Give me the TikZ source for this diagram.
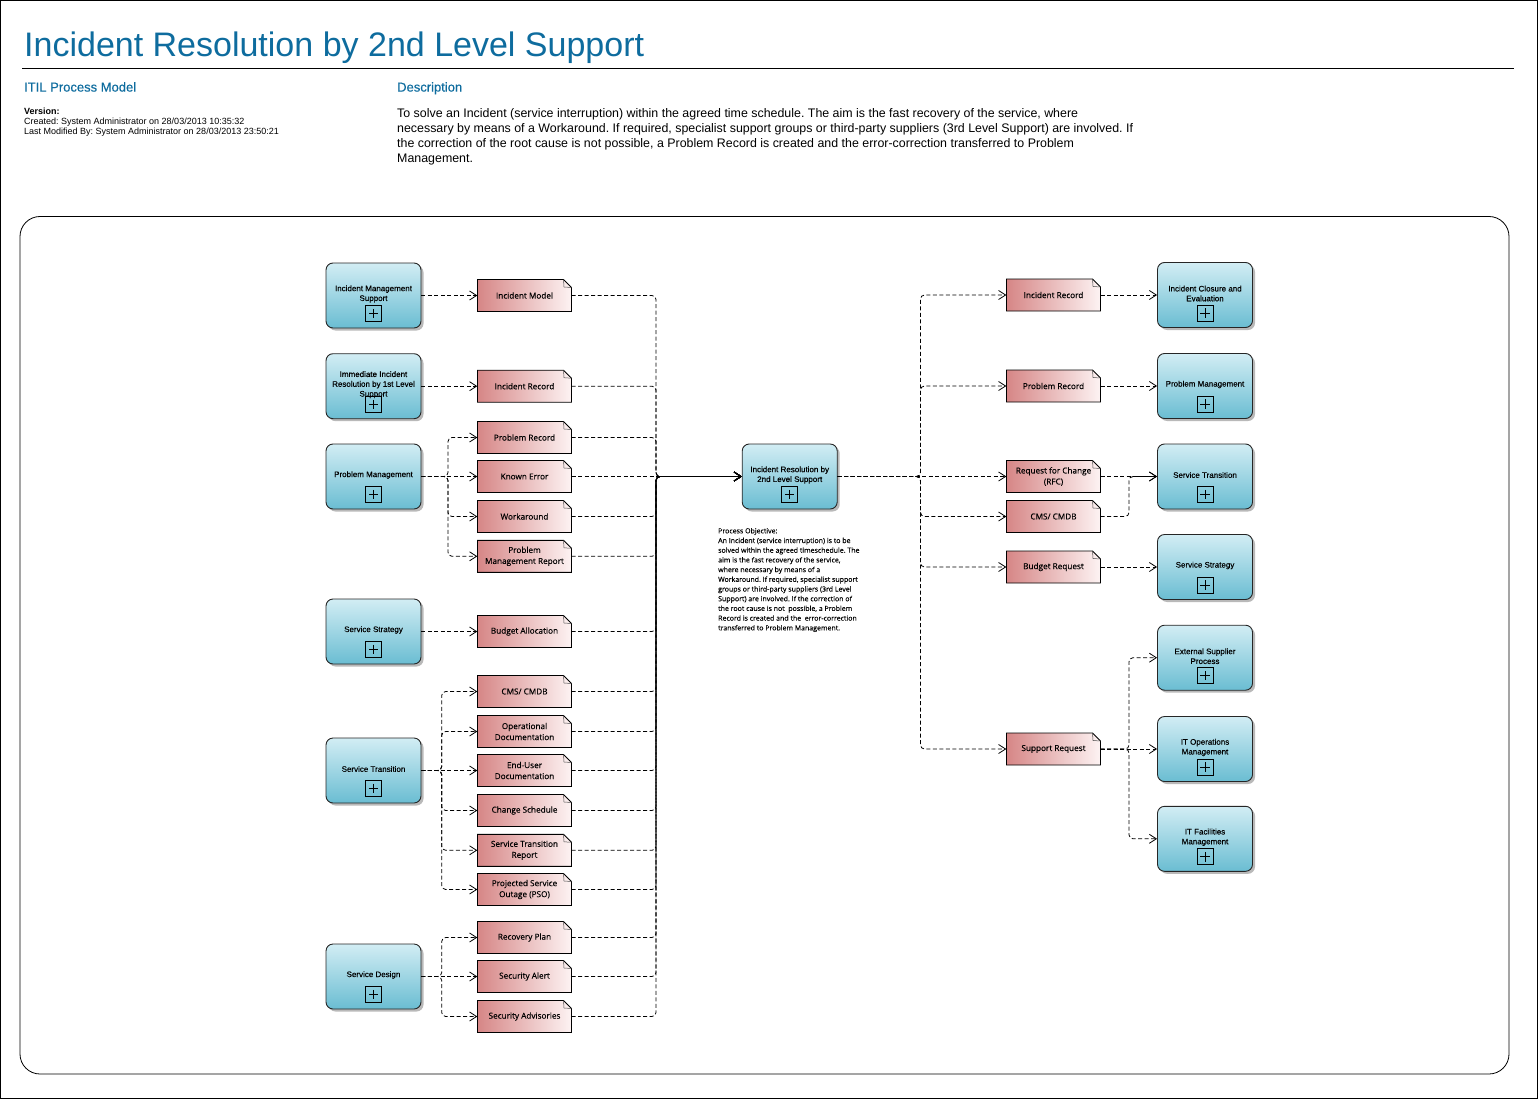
\documentclass[tikz,border=0pt]{standalone}
\usepackage{fontspec}
\setmainfont{Liberation Sans}
\newfontfamily\artfont[FakeBold=0.35]{Open Sans}
\newfontfamily\objfont[FakeBold=0.2]{Open Sans}
\newfontfamily\pfont[FakeBold=0.3]{Liberation Sans}
\newfontfamily\hfont[FakeBold=0.4]{Liberation Sans}
\frenchspacing
\usetikzlibrary{arrows.meta,shadows,calc}
\definecolor{ttl}{RGB}{14,108,158}
\definecolor{pTop}{RGB}{210,237,244}
\definecolor{pBot}{RGB}{106,189,210}
\definecolor{aL}{RGB}{214,134,134}
\definecolor{aR}{RGB}{253,243,243}
\tikzset{
  procbox/.style={draw=black!85, line width=0.9pt, rounded corners=7pt,
    minimum width=95pt, minimum height=65pt, inner sep=0pt,
    top color=pTop, bottom color=pBot,
    drop shadow={shadow xshift=2.5pt, shadow yshift=-2.5pt, fill=black!50, opacity=0.55}},
  ptext/.style={font=\pfont\fontsize{8}{9.8}\selectfont, align=center, inner sep=0pt},
  plusbox/.style={draw=black, line width=0.8pt, minimum size=16pt, inner sep=0pt,
    path picture={
      \draw[line width=0.8pt] ([yshift=-3.3pt]path picture bounding box.north) -- ([yshift=3.3pt]path picture bounding box.south);
      \draw[line width=0.8pt] ([xshift=3.3pt]path picture bounding box.west) -- ([xshift=-3.3pt]path picture bounding box.east);}},
  artnode/.style={minimum width=94pt, minimum height=32pt, inner sep=0pt},
  atext/.style={font=\artfont\fontsize{8.2}{11}\selectfont, align=center, inner sep=0pt},
  artshape/.style={left color=aL, right color=aR, draw=black, line width=0.9pt},
  foldline/.style={draw=black!70, line width=0.5pt},
  conn/.style={draw=black, line width=0.8pt, dash pattern=on 4pt off 2.5pt,
    rounded corners=4pt, -{Straight Barb[length=7pt,width=9pt]}},
  hdr/.style={anchor=base west, inner sep=0pt},
}
\newcommand\procnode[4]{%
  \node[procbox] (#1) at (#2,#3) {};
  \node[ptext] (#1-t) at (#2,#3-1.5) {#4};
  \node[plusbox] (#1-p) at (#2,#3+18) {};
}
\newcommand\artbox[4]{%
  \shadedraw[artshape] (#2-47,#3-16) -- (#2+39,#3-16) -- (#2+47,#3-8) -- (#2+47,#3+16) -- (#2-47,#3+16) -- cycle;
  \draw[foldline] (#2+39,#3-16) -- (#2+39.5,#3-8.5) -- (#2+47,#3-8);
  \node[artnode] (#1) at (#2,#3) {};
  \node[atext] (#1-t) at (#2,#3) {#4};
}
\begin{document}
\begin{tikzpicture}[x=1pt,y=-1pt]
\useasboundingbox (0,0) rectangle (1538,1099);
\draw[line width=0.8pt] (0.6,0.6) rectangle (1537.2,1098.2);
% header
\node[hdr, font=\fontsize{34}{40}\selectfont, text=ttl] (title) at (24,56.7) {Incident Resolution by 2nd Level Support};
\draw[line width=1pt] (22,69) -- (1514,69);
\node[hdr, font=\hfont\fontsize{13}{15}\selectfont, text=ttl] (itil) at (24,91.6) {ITIL Process Model};
\node[hdr, font=\hfont\fontsize{13}{15}\selectfont, text=ttl] (desch) at (397,91.6) {Description};
\node[hdr, font=\bfseries\fontsize{9}{10}\selectfont] (ver) at (24,114.2) {Version:};
\node[hdr, font=\fontsize{9}{10}\selectfont] (cre) at (24,124.6) {Created: System Administrator on 28/03/2013 10:35:32};
\node[hdr, font=\fontsize{9}{10}\selectfont] (mod) at (24,135) {Last Modified By: System Administrator on 28/03/2013 23:50:21};
\node[hdr, font=\fontsize{12.4}{15}\selectfont] (d1) at (397,117.5) {To solve an Incident (service interruption) within the agreed time schedule. The aim is the fast recovery of the service, where};
\node[hdr, font=\fontsize{12.4}{15}\selectfont] (d2) at (397,132.5) {necessary by means of a Workaround. If required, specialist support groups or third-party suppliers (3rd Level Support) are involved. If};
\node[hdr, font=\fontsize{12.4}{15}\selectfont] (d3) at (397,147.5) {the correction of the root cause is not possible, a Problem Record is created and the error-correction transferred to Problem};
\node[hdr, font=\fontsize{12.4}{15}\selectfont] (d4) at (397,162.5) {Management.};
% diagram frame
\draw[line width=0.8pt, rounded corners=20pt] (20,216.5) rectangle (1509,1074);
% left processes
\procnode{pIMS}{373.5}{295.5}{Incident Management\\Support}
\procnode{pIIR}{373.5}{386.2}{Immediate Incident\\Resolution by 1st Level\\Support}
\procnode{pPM}{373.5}{476.5}{Problem Management}
\procnode{pSS}{373.5}{631.5}{Service Strategy}
\procnode{pST}{373.5}{770.5}{Service Transition}
\procnode{pSD}{373.5}{976.5}{Service Design}
% left artifacts
\artbox{aIM}{524.5}{295.5}{Incident Model}
\artbox{aIR}{524.5}{386.2}{Incident Record}
\artbox{aPR}{524.5}{437.5}{Problem Record}
\artbox{aKE}{524.5}{476.5}{Known Error}
\artbox{aWA}{524.5}{516.5}{Workaround}
\artbox{aPMR}{524.5}{556.3}{Problem\\Management Report}
\artbox{aBA}{524.5}{631.5}{Budget Allocation}
\artbox{aCMS}{524.5}{691.5}{CMS/ CMDB}
\artbox{aOD}{524.5}{731.5}{Operational\\Documentation}
\artbox{aEUD}{524.5}{770.5}{End-User\\Documentation}
\artbox{aCS}{524.5}{810.5}{Change Schedule}
\artbox{aSTR}{524.5}{850.3}{Service Transition\\Report}
\artbox{aPSO}{524.5}{889.5}{Projected Service\\Outage (PSO)}
\artbox{aRP}{524.5}{937.5}{Recovery Plan}
\artbox{aSA}{524.5}{976.5}{Security Alert}
\artbox{aSAd}{524.5}{1016.5}{Security Advisories}
% central
\procnode{c}{789.7}{476.5}{Incident Resolution by\\2nd Level Support}
\node[anchor=north west, inner sep=0pt, align=left, font=\objfont\fontsize{7}{9.7}\selectfont] (obj) at (718,527.8) {Process Objective:\\An Incident (service interruption) is to be\\solved within the agreed timeschedule. The\\aim is the fast recovery of the service,\\where necessary by means of a\\Workaround. If required, specialist support\\groups or third-party suppliers (3rd Level\\Support) are involved. If the correction of\\the root cause is not \ possible, a Problem\\Record is created and the \ error-correction\\transferred to Problem Management.};
% right artifacts
\artbox{rIR}{1053.5}{295}{Incident Record}
\artbox{rPR}{1053.5}{386}{Problem Record}
\artbox{rRFC}{1053.5}{476.5}{Request for Change\\(RFC)}
\artbox{rCMS}{1053.5}{516.5}{CMS/ CMDB}
\artbox{rBR}{1053.5}{567}{Budget Request}
\artbox{rSR}{1053.5}{749}{Support Request}
% right processes
\procnode{qICE}{1205}{295}{Incident Closure and\\Evaluation}
\procnode{qPM}{1205}{386}{Problem Management}
\procnode{qST}{1205}{476.5}{Service Transition}
\procnode{qSS}{1205}{567}{Service Strategy}
\procnode{qESP}{1205}{657.7}{External Supplier\\Process}
\procnode{qITO}{1205}{749}{IT Operations\\Management}
\procnode{qITF}{1205}{838.8}{IT Facilities\\Management}
% junction coordinates
\coordinate (jPM) at (448,476.5);
\coordinate (jST) at (441.7,770.5);
\coordinate (jSD) at (441.7,976.5);
\coordinate (lt) at (656,476.5);
\coordinate (rt) at (920.5,476.5);
\coordinate (jRST) at (1129,476.5);
\coordinate (jSR) at (1129,749);
% left process -> artifacts
\draw[conn] (pIMS.east) -- (aIM.west);
\draw[conn] (pIIR.east) -- (aIR.west);
\draw[conn] (pSS.east) -- (aBA.west);
\draw[conn] (pPM.east) -- (aKE.west);
\foreach \a in {aPR,aWA,aPMR} \draw[conn] (pPM.east) -- (jPM) |- (\a.west);
\draw[conn] (pST.east) -- (aEUD.west);
\foreach \a in {aCMS,aOD,aCS,aSTR,aPSO} \draw[conn] (pST.east) -- (jST) |- (\a.west);
\draw[conn] (pSD.east) -- (aSA.west);
\foreach \a in {aRP,aSAd} \draw[conn] (pSD.east) -- (jSD) |- (\a.west);
% artifacts -> central
\draw[conn] (aKE.east) -- (c.west);
\foreach \a in {aIM,aIR,aPR,aWA,aPMR,aBA,aCMS,aOD,aEUD,aCS,aSTR,aPSO,aRP,aSA,aSAd}
  \draw[conn] (\a.east) -| (lt) -- (c.west);
% central -> right artifacts
\draw[conn] (c.east) -- (rRFC.west);
\foreach \a in {rIR,rPR,rCMS,rBR,rSR} \draw[conn] (c.east) -- (rt) |- (\a.west);
% right artifacts -> right processes
\draw[conn] (rIR.east) -- (qICE.west);
\draw[conn] (rPR.east) -- (qPM.west);
\draw[conn] (rRFC.east) -- (qST.west);
\draw[conn] (rCMS.east) -| (jRST) -- (qST.west);
\draw[conn] (rBR.east) -- (qSS.west);
\draw[conn] (rSR.east) -- (qITO.west);
\foreach \q in {qESP,qITF} \draw[conn] (rSR.east) -- (jSR) |- (\q.west);
\end{tikzpicture}
\end{document}
